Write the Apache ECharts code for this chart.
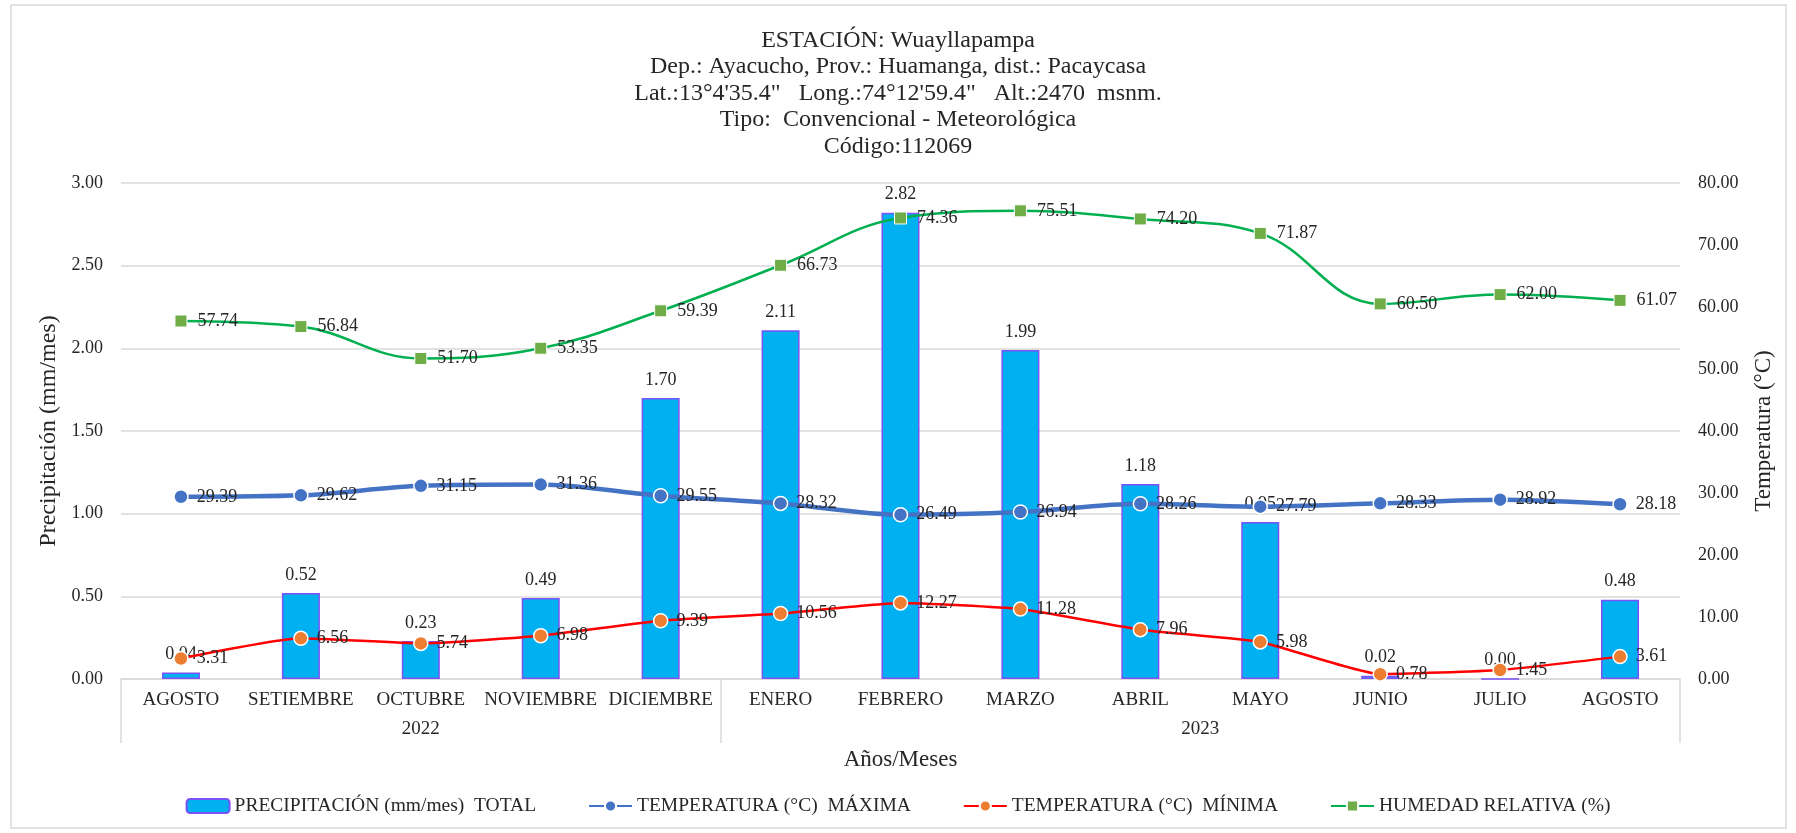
<!DOCTYPE html>
<html>
<head>
<meta charset="utf-8">
<script src="https://cdn.jsdelivr.net/npm/echarts@6/dist/echarts.min.js"></script>
<style>
  html, body { margin: 0; padding: 0; background: #fff; }
  #main { width: 1796px; height: 833px; }
</style>
</head>
<body>
<div id="main"></div>
<script>
// datos
var meses = ['AGOSTO', 'SETIEMBRE', 'OCTUBRE', 'NOVIEMBRE', 'DICIEMBRE', 'ENERO', 'FEBRERO', 'MARZO', 'ABRIL', 'MAYO', 'JUNIO', 'JULIO', 'AGOSTO']
var anios = ['2022', '2023']
var mesesPorAnio = [5, 8]
var precipitacion = [0.04, 0.52, 0.23, 0.49, 1.70, 2.11, 2.82, 1.99, 1.18, 0.95, 0.02, 0.00, 0.48]
var tempMax = [29.39, 29.62, 31.15, 31.36, 29.55, 28.32, 26.49, 26.94, 28.26, 27.79, 28.33, 28.92, 28.18]
var tempMin = [3.31, 6.56, 5.74, 6.98, 9.39, 10.56, 12.27, 11.28, 7.96, 5.98, 0.78, 1.45, 3.61]
var humedad = [57.74, 56.84, 51.70, 53.35, 59.39, 66.73, 74.36, 75.51, 74.20, 71.87, 60.50, 62.00, 61.07]

var fuente = 'Liberation Serif'
var gris = '#D9D9D9'
var texto = '#262626'

// limites y centros de cada año sobre el eje de meses
var limites = [0]
var centros = []
mesesPorAnio.forEach(function (n, i) {
  centros.push(limites[i] + n / 2)
  limites.push(limites[i] + n)
})

function etiqueta(v) { return v.toFixed(2) }
function etiquetaSerie(p) { return etiqueta(p.value) }

var chartDom = document.getElementById('main')
var myChart = echarts.init(chartDom)
var option = {
  backgroundColor: '#fff',
  textStyle: { fontFamily: fuente },
  title: {
    text: 'ESTACIÓN: Wuayllapampa\nDep.: Ayacucho, Prov.: Huamanga, dist.: Pacaycasa\nLat.:13°4\'35.4"   Long.:74°12\'59.4"   Alt.:2470  msnm.\nTipo:  Convencional - Meteorológica\nCódigo:112069',
    left: 893,
    textAlign: 'center',
    top: 22,
    textStyle: { fontFamily: fuente, fontSize: 24, fontWeight: 'normal', color: texto, lineHeight: 26.6 }
  },
  graphic: [{
    type: 'rect',
    shape: { x: 11, y: 5, width: 1775, height: 823 },
    style: { fill: 'none', stroke: gris, lineWidth: 1.5 },
    silent: true
  }],
  legend: {
    bottom: 12,
    left: 'center',
    itemGap: 52,
    itemWidth: 43,
    itemHeight: 14,
    textStyle: { fontFamily: fuente, fontSize: 19.5, color: texto },
    data: ['PRECIPITACIÓN (mm/mes)  TOTAL', 'TEMPERATURA (°C)  MÁXIMA', 'TEMPERATURA (°C)  MÍNIMA', 'HUMEDAD RELATIVA (%)']
  },
  grid: { left: 121, right: 116, top: 183, bottom: 154 },
  xAxis: [
    {
      type: 'category',
      data: meses,
      axisLine: { lineStyle: { color: gris, width: 1.5 } },
      axisTick: { show: false },
      axisLabel: { fontFamily: fuente, fontSize: 19, color: texto, margin: 12, interval: 0 },
      name: 'Años/Meses',
      nameLocation: 'middle',
      nameGap: 69,
      nameTextStyle: { fontFamily: fuente, fontSize: 23, color: texto }
    },
    {
      type: 'value',
      position: 'bottom',
      min: 0,
      max: meses.length,
      axisLine: { show: false },
      splitLine: { show: false },
      axisTick: { show: true, customValues: limites, length: 64, lineStyle: { color: gris, width: 1.5 } },
      axisLabel: {
        customValues: centros,
        margin: 41,
        fontFamily: fuente, fontSize: 19, color: texto,
        formatter: function (v) {
          var i = centros.indexOf(v)
          return i >= 0 ? anios[i] : ''
        }
      }
    }
  ],
  yAxis: [
    {
      type: 'value',
      min: 0,
      max: 3,
      interval: 0.5,
      name: 'Precipitación (mm/mes)',
      nameLocation: 'middle',
      nameGap: 58,
      nameTextStyle: { fontFamily: fuente, fontSize: 24, color: texto },
      axisLine: { show: false },
      axisTick: { show: false },
      axisLabel: { fontFamily: fuente, fontSize: 18, color: texto, margin: 18, formatter: etiqueta },
      splitLine: { lineStyle: { color: gris, width: 1.5 } }
    },
    {
      type: 'value',
      min: 0,
      max: 80,
      interval: 10,
      name: 'Temperatura (°C)',
      nameLocation: 'middle',
      nameGap: 72,
      nameTextStyle: { fontFamily: fuente, fontSize: 23, color: texto },
      axisLine: { show: false },
      axisTick: { show: false },
      axisLabel: { fontFamily: fuente, fontSize: 18, color: texto, margin: 18, formatter: etiqueta },
      splitLine: { show: false }
    }
  ],
  series: [
    {
      name: 'PRECIPITACIÓN (mm/mes)  TOTAL',
      type: 'bar',
      data: precipitacion,
      barWidth: 38,
      itemStyle: { color: '#00B0F0', borderColor: '#7B52F5', borderWidth: 1.5 },
      label: { show: true, position: 'top', distance: 9, fontFamily: fuente, fontSize: 18, color: texto, formatter: etiquetaSerie },
      z: 2
    },
    {
      name: 'TEMPERATURA (°C)  MÁXIMA',
      type: 'line',
      yAxisIndex: 1,
      data: tempMax,
      smooth: 0.3,
      symbol: 'circle',
      symbolSize: 14,
      lineStyle: { color: '#4472C4', width: 4.5 },
      itemStyle: { color: '#4472C4', borderColor: '#fff', borderWidth: 1.5 },
      label: { show: true, position: 'right', distance: 8, fontFamily: fuente, fontSize: 18, color: texto, formatter: etiquetaSerie },
      z: 3
    },
    {
      name: 'TEMPERATURA (°C)  MÍNIMA',
      type: 'line',
      yAxisIndex: 1,
      data: tempMin,
      smooth: 0.15,
      symbol: 'circle',
      symbolSize: 14,
      lineStyle: { color: '#FF0000', width: 2.5 },
      itemStyle: { color: '#ED7D31', borderColor: '#fff', borderWidth: 1.5 },
      label: { show: true, position: 'right', distance: 8, fontFamily: fuente, fontSize: 18, color: texto, formatter: etiquetaSerie },
      z: 3
    },
    {
      name: 'HUMEDAD RELATIVA (%)',
      type: 'line',
      yAxisIndex: 1,
      data: humedad,
      smooth: 0.4,
      symbol: 'rect',
      symbolSize: 12,
      lineStyle: { color: '#00B050', width: 2.5 },
      itemStyle: { color: '#70AD47', borderColor: '#fff', borderWidth: 1 },
      label: { show: true, position: 'right', distance: 10, fontFamily: fuente, fontSize: 18, color: texto, formatter: etiquetaSerie },
      z: 3
    }
  ]
}
myChart.setOption(option)
</script>
</body>
</html>
